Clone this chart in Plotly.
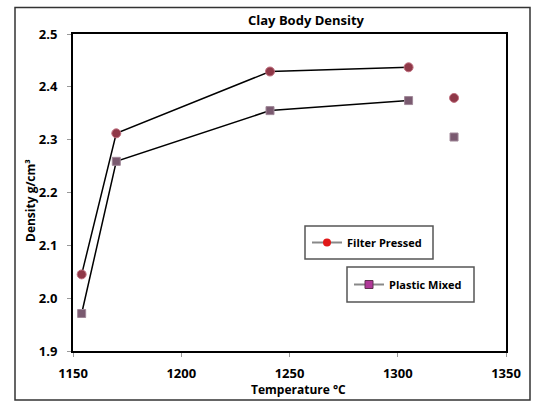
import plotly.graph_objects as go

temps = [1154, 1170, 1241, 1305, 1326]
filter_pressed = [2.045, 2.312, 2.429, 2.437, 2.379]
plastic_mixed = [1.971, 2.259, 2.355, 2.374, 2.305]
n_joined = 4  # points joined by the line

x_ticks = [1150, 1200, 1250, 1300, 1350]
y_ticks = [1.9, 2.0, 2.1, 2.2, 2.3, 2.4, 2.5]
y_tick_text = ["1.9", "2.0", "2.1", "2.2", "2.3", "2.4", "2.5"]

FONT = "Open Sans"

# plot area in pixels
PL, PR, PT, PB = 73, 506, 34, 351
PW, PH = PR - PL, PB - PT


def px(x):
    return (x - PL) / PW


def py(y):
    return (PB - y) / PH


fig = go.Figure()

fig.add_trace(go.Scatter(x=temps[:n_joined], y=filter_pressed[:n_joined], mode="lines",
                         line=dict(color="black", width=1.5), showlegend=False, hoverinfo="skip"))
fig.add_trace(go.Scatter(x=temps[:n_joined], y=plastic_mixed[:n_joined], mode="lines",
                         line=dict(color="black", width=1.5), showlegend=False, hoverinfo="skip"))
fig.add_trace(go.Scatter(x=temps, y=filter_pressed, mode="markers",
                         marker=dict(symbol="circle", size=9, color="#8f3848",
                                     line=dict(color="#c07080", width=1)),
                         showlegend=False))
fig.add_trace(go.Scatter(x=temps, y=plastic_mixed, mode="markers",
                         marker=dict(symbol="square", size=8, color="#7a5a70",
                                     line=dict(color="#a08898", width=1)),
                         showlegend=False))
fig.add_trace(go.Scatter(x=[None], y=[None], mode="lines+markers", name="Filter Pressed",
                         line=dict(color="#888888", width=2),
                         marker=dict(symbol="circle", size=8, color="#e01818"),
                         legend="legend"))
fig.add_trace(go.Scatter(x=[None], y=[None], mode="lines+markers", name="Plastic Mixed",
                         line=dict(color="#888888", width=2),
                         marker=dict(symbol="square", size=8, color="#b03898",
                                     line=dict(color="#603050", width=1)),
                         legend="legend2"))

axis_common = dict(showline=True, linecolor="black", linewidth=2, mirror=True,
                   showgrid=False, zeroline=False, ticks="outside", ticklen=4,
                   tickcolor="#999999", tickwidth=1,
                   tickfont=dict(family=FONT, size=13, color="black", weight="bold"))

fig.update_xaxes(range=[1150, 1350], tickvals=x_ticks, ticklabelstandoff=5, **axis_common)
fig.update_yaxes(range=[1.9, 2.5], tickvals=y_ticks, ticktext=y_tick_text,
                 ticklabelstandoff=7, **axis_common)

legend_common = dict(bgcolor="rgba(0,0,0,0)", borderwidth=0,
                     font=dict(family=FONT, size=11, color="black", weight="bold"),
                     itemwidth=30, xanchor="left", yanchor="middle")

box_line = dict(color="#555555", width=1.5)

fig.update_layout(
    width=537, height=401,
    margin=dict(l=PL, r=537 - PR, t=PT, b=401 - PB),
    paper_bgcolor="white", plot_bgcolor="white",
    title=dict(text="Clay Body Density", x=306 / 537, xanchor="center",
               y=1 - 20.7 / 401, yanchor="middle",
               font=dict(family=FONT, size=13, color="black", weight="bold")),
    legend=dict(x=px(307), y=py(242.5), **legend_common),
    legend2=dict(x=px(349), y=py(284.5), **legend_common),
    annotations=[
        dict(text="Temperature °C", xref="paper", yref="paper", x=px(298), y=py(389),
             xanchor="center", yanchor="middle", showarrow=False,
             font=dict(family=FONT, size=12, color="black", weight="bold")),
        dict(text="Density g/cm³", xref="paper", yref="paper", x=px(30), y=py(201),
             xanchor="center", yanchor="middle", showarrow=False, textangle=-90,
             font=dict(family=FONT, size=12, color="black", weight="bold")),
    ],
    shapes=[
        dict(type="rect", xref="paper", yref="paper",
             x0=px(15), x1=px(530), y0=py(400), y1=py(7.5),
             line=dict(color="#333333", width=1.5), layer="below"),
        dict(type="rect", xref="paper", yref="paper",
             x0=px(305), x1=px(433), y0=py(259), y1=py(226),
             line=box_line, fillcolor="white", layer="below"),
        dict(type="rect", xref="paper", yref="paper",
             x0=px(347), x1=px(474), y0=py(302), y1=py(267),
             line=box_line, fillcolor="white", layer="below"),
    ],
)

fig.write_html("out.html", config={"displayModeBar": False},
               post_script="document.body.style.margin='0';")
